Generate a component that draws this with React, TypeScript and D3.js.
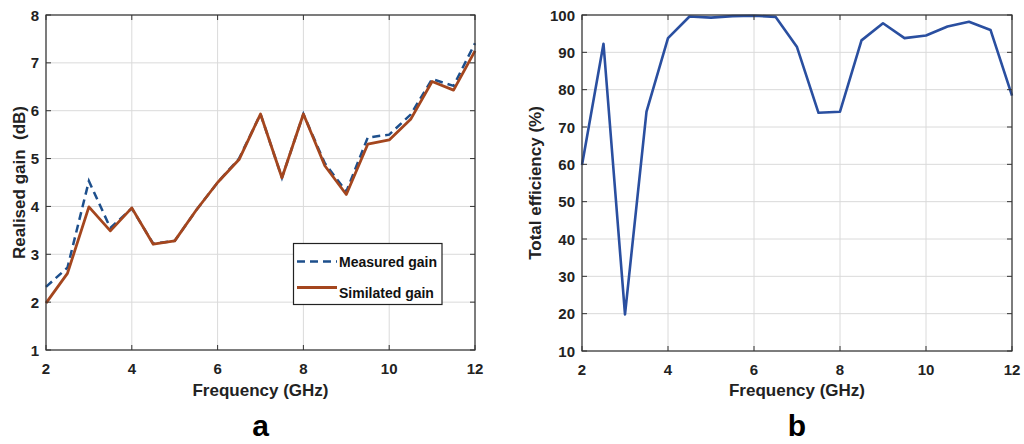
import React from "react";
import * as d3 from "d3";

const freq = [2, 2.5, 3, 3.5, 4, 4.5, 5, 5.5, 6, 6.5, 7, 7.5, 8, 8.5, 9, 9.5, 10, 10.5, 11, 11.5, 12];
const measuredGain = [2.32, 2.72, 4.53, 3.55, 3.96, 3.22, 3.28, 3.92, 4.5, 5.0, 5.93, 4.6, 5.93, 4.9, 4.31, 5.44, 5.5, 5.92, 6.66, 6.52, 7.41];
const simulatedGain = [1.98, 2.6, 3.99, 3.49, 3.97, 3.21, 3.28, 3.92, 4.5, 4.98, 5.93, 4.6, 5.93, 4.85, 4.25, 5.3, 5.39, 5.82, 6.61, 6.43, 7.25];
const efficiency = [59.8, 92.3, 19.8, 74.1, 93.8, 99.6, 99.3, 99.7, 99.8, 99.5, 91.4, 73.8, 74.1, 93.2, 97.8, 93.8, 94.5, 96.9, 98.2, 96.0, 78.4];

const xTicks = [2, 4, 6, 8, 10, 12];
const gainTicks = [1, 2, 3, 4, 5, 6, 7, 8];
const effTicks = [10, 20, 30, 40, 50, 60, 70, 80, 90, 100];

const FONT = "'Liberation Sans', Arial, sans-serif";
const GRID = "#dadada";
const AXIS = "#333333";
const SIM = "#A4461E";
const MEAS = "#1D4F8C";
const EFF = "#2A4FA0";

type PanelProps = {
  left: number; right: number; top: number; bottom: number;
  yDomain: [number, number]; yTicks: number[]; yLabel: string; yLabelX: number;
  letter: string; children: (x: d3.ScaleLinear<number, number>, y: d3.ScaleLinear<number, number>) => React.ReactNode;
};

function Panel(p: PanelProps) {
  const x = d3.scaleLinear().domain([2, 12]).range([p.left, p.right]);
  const y = d3.scaleLinear().domain(p.yDomain).range([p.bottom, p.top]);
  const cx = (p.left + p.right) / 2;
  const cy = (p.top + p.bottom) / 2;
  const tl = 5;
  return (
    <g>
      {xTicks.map((t) => (
        <line key={"gx" + t} x1={x(t)} x2={x(t)} y1={p.top} y2={p.bottom} stroke={GRID} strokeWidth={1} />
      ))}
      {p.yTicks.map((t) => (
        <line key={"gy" + t} x1={p.left} x2={p.right} y1={y(t)} y2={y(t)} stroke={GRID} strokeWidth={1} />
      ))}
      {p.children(x, y)}
      <rect x={p.left} y={p.top} width={p.right - p.left} height={p.bottom - p.top} fill="none" stroke={AXIS} strokeWidth={1.2} />
      {xTicks.map((t) => (
        <g key={"tx" + t}>
          <line x1={x(t)} x2={x(t)} y1={p.bottom} y2={p.bottom - tl} stroke={AXIS} />
          <line x1={x(t)} x2={x(t)} y1={p.top} y2={p.top + tl} stroke={AXIS} />
          <text x={x(t)} y={p.bottom + 24} textAnchor="middle" fontFamily={FONT} fontWeight="bold" fontSize={15} fill="#222">{t}</text>
        </g>
      ))}
      {p.yTicks.map((t) => (
        <g key={"ty" + t}>
          <line x1={p.left} x2={p.left + tl} y1={y(t)} y2={y(t)} stroke={AXIS} />
          <line x1={p.right} x2={p.right - tl} y1={y(t)} y2={y(t)} stroke={AXIS} />
          <text x={p.left - 7} y={y(t) + 5.5} textAnchor="end" fontFamily={FONT} fontWeight="bold" fontSize={15} fill="#222">{t}</text>
        </g>
      ))}
      <text x={cx} y={396} textAnchor="middle" fontFamily={FONT} fontWeight="bold" fontSize={17} fill="#222">Frequency (GHz)</text>
      <text transform={`translate(${p.yLabelX},${cy}) rotate(-90)`} textAnchor="middle" fontFamily={FONT} fontWeight="bold" fontSize={17} fill="#222" style={{ whiteSpace: "pre" }}>{p.yLabel}</text>
      <text x={cx} y={436} textAnchor="middle" fontFamily={FONT} fontWeight="bold" fontSize={30} fill="#000">{p.letter}</text>
    </g>
  );
}

export default function App() {
  return (
    <svg width={1024} height={444} style={{ position: "absolute", left: 0, top: 0, background: "#fff" }}>
      <Panel left={46} right={475} top={15} bottom={350} yDomain={[1, 8]} yTicks={gainTicks} yLabel={"Realised gain\u00a0\u00a0(dB)"} yLabelX={25} letter="a">
        {(x, y) => {
          const line = (vals: number[]) => d3.line<number>().x((_, i) => x(freq[i])).y((v) => y(v))(vals) || "";
          return (
            <g>
              <path d={line(measuredGain)} fill="none" stroke={MEAS} strokeWidth={2.5} strokeDasharray="8,5" />
              <path d={line(simulatedGain)} fill="none" stroke={SIM} strokeWidth={2.8} strokeLinejoin="round" />
              <rect x={293.5} y={243.5} width={148.5} height={61} fill="#fff" stroke="#222" strokeWidth={1.2} />
              <line x1={297} x2={337} y1={261.5} y2={261.5} stroke={MEAS} strokeWidth={2.5} strokeDasharray="8,5" />
              <line x1={297} x2={337} y1={287.5} y2={287.5} stroke={SIM} strokeWidth={2.8} />
              <text x={339} y={266.5} fontFamily={FONT} fontWeight="bold" fontSize={14} fill="#111">Measured gain</text>
              <text x={339} y={297.5} fontFamily={FONT} fontWeight="bold" fontSize={14} fill="#111">Similated gain</text>
            </g>
          );
        }}
      </Panel>
      <Panel left={582} right={1012} top={15} bottom={351} yDomain={[10, 100]} yTicks={effTicks} yLabel="Total efficiency (%)" yLabelX={541} letter="b">
        {(x, y) => {
          const path = d3.line<number>().x((_, i) => x(freq[i])).y((v) => y(v))(efficiency) || "";
          return <path d={path} fill="none" stroke={EFF} strokeWidth={2.6} strokeLinejoin="round" />;
        }}
      </Panel>
    </svg>
  );
}
